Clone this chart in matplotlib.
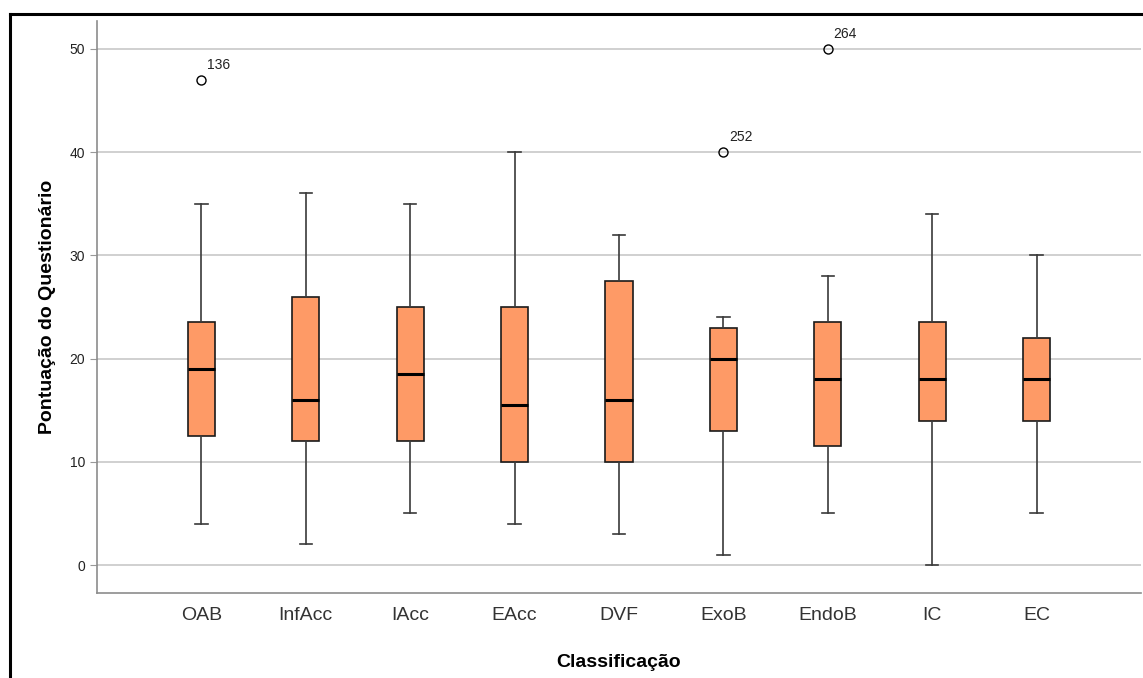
import matplotlib
matplotlib.use("Agg")
import matplotlib.pyplot as plt
from matplotlib.lines import Line2D

plt.rcParams["font.family"] = ["Liberation Sans", "DejaVu Sans"]

# resumo por grupo (valores do boxplot)
categorias = ["OAB", "InfAcc", "IAcc", "EAcc", "DVF", "ExoB", "EndoB", "IC", "EC"]
bigode_inf = [4, 2, 5, 4, 3, 1, 5, 0, 5]
q1 = [12.5, 12, 12, 10, 10, 13, 11.5, 14, 14]
mediana = [19, 16, 18.5, 15.5, 16, 20, 18, 18, 18]
q3 = [23.5, 26, 25, 25, 27.5, 23, 23.5, 23.5, 22]
bigode_sup = [35, 36, 35, 40, 32, 24, 28, 34, 30]

# outliers: (índice do grupo, valor, caso)
outliers_grupo = [0, 5, 6]
outliers_valor = [47, 40, 50]
outliers_caso = ["136", "252", "264"]

COR_CAIXA = "#FE9A66"

fig = plt.figure(figsize=(11.43, 6.78), dpi=100)
ax = fig.add_axes([97 / 1143, 85 / 678, 1044 / 1143, 572 / 678])

stats = []
for i, nome in enumerate(categorias):
    fl = [v for g, v in zip(outliers_grupo, outliers_valor) if g == i]
    stats.append({"label": nome, "whislo": bigode_inf[i], "q1": q1[i],
                  "med": mediana[i], "q3": q3[i], "whishi": bigode_sup[i],
                  "fliers": fl})

posicoes = list(range(1, len(categorias) + 1))
ax.bxp(stats, positions=posicoes, widths=0.26, patch_artist=True,
       showfliers=True, capwidths=0.12,
       boxprops=dict(facecolor=COR_CAIXA, edgecolor="#1a1a1a", linewidth=1.2),
       medianprops=dict(color="black", linewidth=2.2),
       whiskerprops=dict(color="#3a3a3a", linewidth=1.2),
       capprops=dict(color="#3a3a3a", linewidth=1.2),
       flierprops=dict(marker="o", markersize=6.5, markerfacecolor="none",
                       markeredgecolor="black", markeredgewidth=1.0),
       zorder=3)

for g, v, caso in zip(outliers_grupo, outliers_valor, outliers_caso):
    ax.annotate(caso, (posicoes[g], v), xytext=(4, 6), textcoords="offset points",
                fontsize=10, color="#222222", ha="left", va="bottom")

ax.set_xlim(0, 10)
ax.set_ylim(-2.7, 52.7)
ax.set_yticks([0, 10, 20, 30, 40, 50])
ax.set_xticks(posicoes)
ax.set_xticklabels(categorias, fontsize=14, color="#333333")
ax.tick_params(axis="y", labelsize=10, length=5, color="#999999", colors="#222222")
ax.tick_params(axis="x", length=0, pad=10)
ax.yaxis.grid(True, color="#c8c8c8", linewidth=1.2, zorder=0)
ax.set_axisbelow(True)

for lado in ["top", "right"]:
    ax.spines[lado].set_visible(False)
for lado in ["left", "bottom"]:
    ax.spines[lado].set_color("#8c8c8c")
    ax.spines[lado].set_linewidth(1.2)

ax.set_xlabel("Classificação", fontsize=14, fontweight="bold", labelpad=22)
ax.set_ylabel("Pontuação do Questionário", fontsize=14, fontweight="bold", labelpad=10)

# moldura preta (topo e esquerda)
y_topo = 1 - 14 / 678
x_esq = 10 / 1143
fig.add_artist(Line2D([x_esq, x_esq], [0, y_topo], color="black", linewidth=2.2,
                      transform=fig.transFigure))
fig.add_artist(Line2D([x_esq, 1], [y_topo, y_topo], color="black", linewidth=2.2,
                      transform=fig.transFigure))

fig.savefig("out.png", dpi=100, facecolor="white")
